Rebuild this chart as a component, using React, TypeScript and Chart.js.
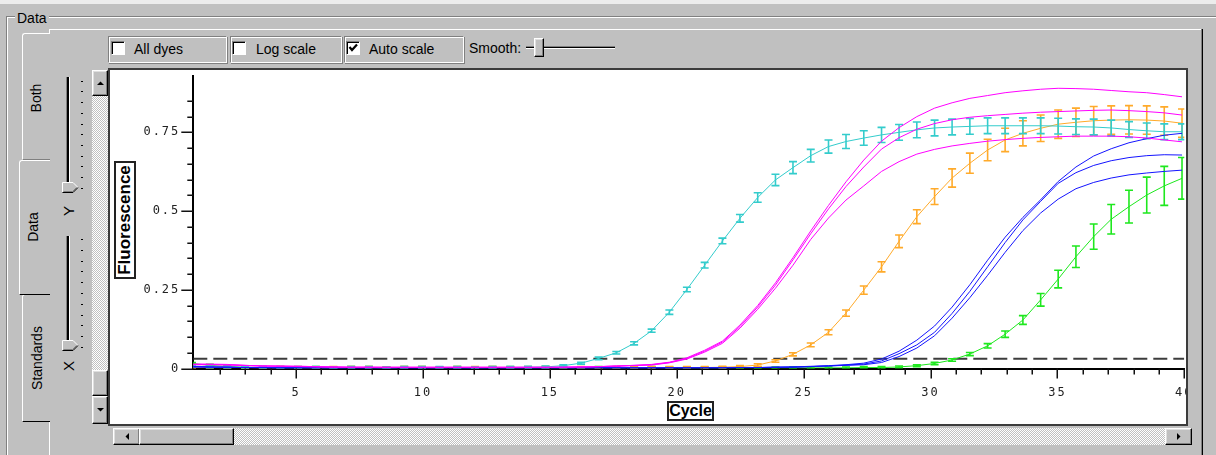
import React, { useEffect, useRef } from "react";
import { Chart, registerables } from "chart.js";

Chart.register(...registerables);

// ---- data ----
const CYCLES = [
  0.90, 1.60, 2.29, 2.99, 3.69, 4.38, 5.08, 5.78, 6.47, 7.17,
  7.87, 8.56, 9.26, 9.96, 10.65, 11.35, 12.05, 12.74, 13.44, 14.14,
  14.83, 15.53, 16.23, 16.92, 17.62, 18.32, 19.01, 19.71, 20.40, 21.10,
  21.80, 22.49, 23.19, 23.89, 24.58, 25.28, 25.98, 26.67, 27.37, 28.07,
  28.76, 29.46, 30.16, 30.85, 31.55, 32.25, 32.94, 33.64, 34.34, 35.03,
  35.73, 36.43, 37.12, 37.82, 38.52, 39.21, 39.91,
];

const CYAN = [
  0.008, 0.005, 0.004, 0.003, 0.003, 0.002, 0.003, 0.003, 0.002, 0.003,
  0.003, 0.002, 0.003, 0.003, 0.003, 0.003, 0.002, 0.003, 0.003, 0.004,
  0.005, 0.009, 0.017, 0.032, 0.050, 0.080, 0.120, 0.179, 0.251, 0.328,
  0.405, 0.477, 0.543, 0.599, 0.638, 0.676, 0.705, 0.721, 0.732, 0.742,
  0.750, 0.758, 0.764, 0.767, 0.769, 0.771, 0.771, 0.771, 0.771, 0.770,
  0.768, 0.767, 0.764, 0.759, 0.755, 0.752, 0.752,
];
const CYAN_ERR = [
  0.003, 0.003, 0.003, 0.003, 0.003, 0.003, 0.003, 0.003, 0.003, 0.003,
  0.003, 0.003, 0.003, 0.003, 0.003, 0.003, 0.003, 0.003, 0.003, 0.003,
  0.003, 0.003, 0.003, 0.004, 0.004, 0.005, 0.005, 0.007, 0.007, 0.009,
  0.009, 0.012, 0.015, 0.018, 0.019, 0.020, 0.021, 0.022, 0.023, 0.024,
  0.025, 0.025, 0.025, 0.025, 0.025, 0.025, 0.025, 0.025, 0.025, 0.025,
  0.025, 0.025, 0.025, 0.025, 0.025, 0.025, 0.025,
];

const MAGENTA_1 = [
  0.014, 0.014, 0.013, 0.010, 0.008, 0.008, 0.007, 0.006, 0.005, 0.004,
  0.004, 0.004, 0.004, 0.004, 0.004, 0.004, 0.004, 0.004, 0.004, 0.004,
  0.004, 0.004, 0.005, 0.006, 0.008, 0.010, 0.013, 0.020, 0.034, 0.058,
  0.087, 0.138, 0.200, 0.272, 0.352, 0.437, 0.518, 0.593, 0.662, 0.722,
  0.765, 0.800, 0.827, 0.844, 0.858, 0.867, 0.876, 0.882, 0.887, 0.890,
  0.889, 0.887, 0.883, 0.879, 0.876, 0.870, 0.863,
];
const MAGENTA_2 = [
  0.013, 0.013, 0.012, 0.010, 0.008, 0.007, 0.007, 0.006, 0.005, 0.004,
  0.004, 0.004, 0.004, 0.004, 0.004, 0.004, 0.004, 0.004, 0.004, 0.004,
  0.004, 0.004, 0.005, 0.006, 0.008, 0.010, 0.012, 0.019, 0.032, 0.055,
  0.084, 0.133, 0.195, 0.265, 0.345, 0.428, 0.507, 0.578, 0.640, 0.697,
  0.733, 0.760, 0.778, 0.790, 0.798, 0.803, 0.807, 0.811, 0.814, 0.816,
  0.818, 0.820, 0.821, 0.819, 0.816, 0.812, 0.805,
];
const MAGENTA_3 = [
  0.012, 0.012, 0.011, 0.009, 0.008, 0.007, 0.006, 0.005, 0.004, 0.004,
  0.004, 0.003, 0.003, 0.003, 0.003, 0.003, 0.003, 0.003, 0.003, 0.003,
  0.003, 0.004, 0.005, 0.006, 0.007, 0.009, 0.011, 0.018, 0.030, 0.052,
  0.080, 0.128, 0.188, 0.255, 0.328, 0.410, 0.478, 0.535, 0.580, 0.626,
  0.657, 0.681, 0.696, 0.707, 0.715, 0.722, 0.727, 0.731, 0.734, 0.736,
  0.738, 0.738, 0.738, 0.736, 0.732, 0.726, 0.720,
];

const ORANGE = [
  0.004, 0.003, 0.003, 0.003, 0.002, 0.003, 0.003, 0.002, 0.003, 0.003,
  0.003, 0.002, 0.003, 0.003, 0.002, 0.003, 0.003, 0.003, 0.002, 0.003,
  0.003, 0.003, 0.003, 0.002, 0.003, 0.003, 0.003, 0.003, 0.003, 0.003,
  0.004, 0.006, 0.011, 0.024, 0.045, 0.075, 0.115, 0.176, 0.249, 0.323,
  0.404, 0.482, 0.546, 0.605, 0.652, 0.694, 0.726, 0.747, 0.763, 0.776,
  0.782, 0.787, 0.789, 0.790, 0.789, 0.786, 0.779,
];
const ORANGE_ERR = [
  0.003, 0.003, 0.003, 0.003, 0.003, 0.003, 0.003, 0.003, 0.003, 0.003,
  0.003, 0.003, 0.003, 0.003, 0.003, 0.003, 0.003, 0.003, 0.003, 0.003,
  0.003, 0.003, 0.003, 0.003, 0.003, 0.003, 0.003, 0.003, 0.003, 0.003,
  0.003, 0.003, 0.004, 0.004, 0.005, 0.006, 0.008, 0.010, 0.013, 0.016,
  0.020, 0.022, 0.025, 0.029, 0.032, 0.034, 0.037, 0.040, 0.042, 0.045,
  0.045, 0.045, 0.045, 0.045, 0.045, 0.045, 0.045,
];

const BLUE_1 = [
  0.006, 0.005, 0.004, 0.003, 0.003, 0.002, 0.002, 0.002, 0.002, 0.002,
  0.002, 0.002, 0.002, 0.002, 0.002, 0.002, 0.002, 0.002, 0.002, 0.002,
  0.002, 0.002, 0.002, 0.002, 0.002, 0.002, 0.002, 0.002, 0.002, 0.002,
  0.002, 0.003, 0.003, 0.004, 0.005, 0.007, 0.009, 0.012, 0.017, 0.030,
  0.055, 0.090, 0.135, 0.195, 0.266, 0.344, 0.417, 0.480, 0.536, 0.594,
  0.640, 0.675, 0.698, 0.717, 0.730, 0.741, 0.747,
];
const BLUE_2 = [
  0.006, 0.005, 0.004, 0.003, 0.003, 0.002, 0.002, 0.002, 0.002, 0.002,
  0.002, 0.002, 0.002, 0.002, 0.002, 0.002, 0.002, 0.002, 0.002, 0.002,
  0.002, 0.002, 0.002, 0.002, 0.002, 0.002, 0.002, 0.002, 0.002, 0.002,
  0.002, 0.003, 0.003, 0.004, 0.005, 0.006, 0.008, 0.011, 0.014, 0.024,
  0.047, 0.075, 0.115, 0.175, 0.245, 0.323, 0.400, 0.472, 0.531, 0.588,
  0.622, 0.645, 0.660, 0.670, 0.676, 0.679, 0.678,
];
const BLUE_3 = [
  0.005, 0.004, 0.004, 0.003, 0.002, 0.002, 0.002, 0.002, 0.002, 0.002,
  0.002, 0.002, 0.002, 0.002, 0.002, 0.002, 0.002, 0.002, 0.002, 0.002,
  0.002, 0.002, 0.002, 0.002, 0.002, 0.002, 0.002, 0.002, 0.002, 0.002,
  0.002, 0.003, 0.003, 0.004, 0.004, 0.006, 0.008, 0.010, 0.012, 0.019,
  0.038, 0.065, 0.104, 0.160, 0.225, 0.296, 0.369, 0.438, 0.494, 0.538,
  0.571, 0.591, 0.605, 0.615, 0.621, 0.626, 0.630,
];

const GREEN = [
  0.016, 0.010, 0.006, 0.004, 0.003, 0.003, 0.002, 0.003, 0.002, 0.003,
  0.003, 0.002, 0.003, 0.003, 0.002, 0.003, 0.002, 0.003, 0.003, 0.002,
  0.003, 0.002, 0.002, 0.003, 0.002, 0.002, 0.003, 0.002, 0.002, 0.002,
  0.002, 0.002, 0.002, 0.002, 0.002, 0.002, 0.002, 0.002, 0.003, 0.003,
  0.005, 0.009, 0.016, 0.027, 0.046, 0.072, 0.109, 0.154, 0.218, 0.284,
  0.355, 0.419, 0.474, 0.514, 0.551, 0.580, 0.604,
];
const GREEN_ERR = [
  0.003, 0.003, 0.003, 0.003, 0.003, 0.003, 0.003, 0.003, 0.003, 0.003,
  0.003, 0.003, 0.003, 0.003, 0.003, 0.003, 0.003, 0.003, 0.003, 0.003,
  0.003, 0.003, 0.003, 0.003, 0.003, 0.003, 0.003, 0.003, 0.003, 0.003,
  0.003, 0.003, 0.003, 0.003, 0.003, 0.003, 0.003, 0.003, 0.003, 0.003,
  0.003, 0.003, 0.004, 0.004, 0.005, 0.007, 0.010, 0.014, 0.020, 0.028,
  0.034, 0.040, 0.047, 0.052, 0.057, 0.062, 0.066,
];

const THRESHOLD = 0.031;
const X_MIN = 0.95;
const X_MAX = 40;
const Y_MIN = 0;
const Y_MAX = 0.93;
const X_LABEL_EVERY = 5;
const Y_LABELED = [0, 0.25, 0.5, 0.75];

const COLORS = {
  cyan: "#33cccc",
  magenta: "#ff00ff",
  orange: "#ffaa2a",
  blue: "#1414ff",
  green: "#1ee81e",
  threshold: "#3c3c3c",
};

const pts = (vals: number[]) => CYCLES.map((c, i) => ({ x: c, y: vals[i] }));

// ---- plugins ----
const labelSpacing = {
  id: "labelSpacing",
  beforeDraw(chart: any) {
    chart.ctx.letterSpacing = "2px";
  },
  afterDraw(chart: any) {
    chart.ctx.letterSpacing = "0px";
  },
};

// error bars drawn right after each dataset's own line, so later lines overlap them
const errorBars = {
  id: "errorBars",
  afterDatasetDraw(chart: any, args: any) {
    const ds = chart.data.datasets[args.index];
    if (!ds || !ds.errors) return;
    const { ctx, chartArea, scales } = chart;
    const x = scales.x;
    const y = scales.y;
    ctx.save();
    ctx.beginPath();
    ctx.rect(chartArea.left, chartArea.top, chartArea.right - chartArea.left, chartArea.bottom - chartArea.top);
    ctx.clip();
    ctx.strokeStyle = ds.borderColor;
    ctx.lineWidth = 1.6;
    ds.data.forEach((p: any, i: number) => {
      const e = ds.errors[i];
      const px = x.getPixelForValue(p.x);
      const yt = y.getPixelForValue(p.y + e);
      const yb = y.getPixelForValue(p.y - e);
      ctx.beginPath();
      ctx.moveTo(px, yt);
      ctx.lineTo(px, yb);
      ctx.moveTo(px - 4, yt);
      ctx.lineTo(px + 4, yt);
      ctx.moveTo(px - 4, yb);
      ctx.lineTo(px + 4, yb);
      ctx.stroke();
    });
    ctx.restore();
  },
};

const tickMarks = {
  id: "tickMarks",
  afterDraw(chart: any) {
    const { ctx, chartArea, scales } = chart;
    const x = scales.x;
    const y = scales.y;
    ctx.save();
    ctx.strokeStyle = "#111";
    ctx.lineWidth = 1.5;
    y.ticks.forEach((t: any) => {
      const r = Math.round(t.value * 100) / 100;
      if (Math.abs(r * 20 - Math.round(r * 20)) > 1e-6) return;
      const major = Y_LABELED.some((v) => Math.abs(v - r) < 1e-6);
      const len = major ? 12 : 6;
      const py = Math.round(y.getPixelForValue(t.value)) + 0.25;
      ctx.beginPath();
      ctx.moveTo(chartArea.left - len, py);
      ctx.lineTo(chartArea.left, py);
      ctx.stroke();
    });
    x.ticks.forEach((t: any) => {
      if (!Number.isInteger(t.value)) return;
      const len = t.value % X_LABEL_EVERY === 0 ? 10 : 6;
      const px = Math.round(x.getPixelForValue(t.value)) + 0.25;
      ctx.beginPath();
      ctx.moveTo(px, chartArea.bottom);
      ctx.lineTo(px, chartArea.bottom + len);
      ctx.stroke();
    });
    ctx.restore();
  },
};

// ---- UI helpers ----
const GRAY = "#c0c0c0";
const abs = (l: number, t: number, w: number, h: number, extra: any = {}) => ({
  position: "absolute" as const,
  left: l,
  top: t,
  width: w,
  height: h,
  boxSizing: "border-box" as const,
  ...extra,
});
const raised = {
  background: GRAY,
  borderTop: "1px solid #ffffff",
  borderLeft: "1px solid #ffffff",
  borderRight: "1px solid #000000",
  borderBottom: "1px solid #000000",
  boxShadow: "inset -1px -1px 0 #808080, inset 1px 1px 0 #dfdfdf",
  display: "flex",
  alignItems: "center",
  justifyContent: "center",
};
const dotted = {
  backgroundColor: GRAY,
  backgroundImage: "repeating-conic-gradient(#ffffff 0 25%, transparent 0 50%)",
  backgroundSize: "2px 2px",
};
const etched = {
  borderTop: "1px solid #808080",
  borderLeft: "1px solid #808080",
  borderRight: "1px solid #ffffff",
  borderBottom: "1px solid #ffffff",
  boxShadow: "inset 1px 1px 0 #ffffff, 1px 1px 0 #808080",
};

function Tri({ dir }: { dir: string }) {
  const p: any = {
    up: "0,4 7,4 3.5,0.5",
    down: "0,0 7,0 3.5,3.5",
    left: "4,0 4,7 0.5,3.5",
    right: "0,0 0,7 3.5,3.5",
  };
  const horiz = dir === "left" || dir === "right";
  return (
    <svg width={horiz ? 4 : 7} height={horiz ? 7 : 4} style={{ display: "block" }}>
      <polygon points={p[dir]} fill="#000" />
    </svg>
  );
}

function CheckBox({ l, t, checked }: { l: number; t: number; checked?: boolean }) {
  return (
    <div
      style={abs(l, t, 14, 14, {
        background: "#fff",
        borderTop: "1px solid #808080",
        borderLeft: "1px solid #808080",
        borderRight: "1px solid #ffffff",
        borderBottom: "1px solid #ffffff",
        boxShadow: "inset 1px 1px 0 #000",
      })}
    >
      {checked && (
        <svg width={12} height={12} style={{ position: "absolute", left: 0, top: 0 }}>
          <polyline points="2.5,5 5,8 10,2.5" fill="none" stroke="#000" strokeWidth={2.2} />
        </svg>
      )}
    </div>
  );
}

function Text({ l, t, children, size = 14, extra = {} }: any) {
  return (
    <div style={{ position: "absolute", left: l, top: t, fontSize: size, lineHeight: "16px", whiteSpace: "nowrap", color: "#000", ...extra }}>
      {children}
    </div>
  );
}

function VText({ cx, cy, children, size = 14, bold = false }: any) {
  return (
    <div
      style={{
        position: "absolute",
        left: cx,
        top: cy,
        transform: "translate(-50%, -50%) rotate(-90deg)",
        fontSize: size,
        fontWeight: bold ? "bold" : "normal",
        lineHeight: "16px",
        whiteSpace: "nowrap",
        color: "#000",
      }}
    >
      {children}
    </div>
  );
}

function VSlider({ top, height, thumbTop, tickStart, tickGap }: any) {
  const ticks = Array.from({ length: 11 }, (_, k) => tickStart + k * tickGap);
  return (
    <>
      <div style={abs(66, top, 1, height, { background: "#808080" })} />
      <div style={abs(67, top, 2, height, { background: "#000" })} />
      <div style={abs(69, top, 1, height, { background: "#fff" })} />
      {ticks.map((ty, k) => (
        <div key={k} style={abs(81, Math.round(ty), 2, 1, { background: "#000" })} />
      ))}
      <svg width={18} height={11} style={{ position: "absolute", left: 62, top: thumbTop }}>
        <polygon points="0.5,0.5 11,0.5 16.5,5.5 11,10.5 0.5,10.5" fill={GRAY} />
        <polyline points="0.5,10 0.5,0.5 11,0.5 16,5.5" fill="none" stroke="#fff" />
        <polyline points="16,5.5 11,10.5 0.5,10.5" fill="none" stroke="#000" />
        <polyline points="1.5,9.5 10.5,9.5 14.5,5.5" fill="none" stroke="#808080" />
      </svg>
    </>
  );
}

export default function App() {
  const canvasRef = useRef<HTMLCanvasElement | null>(null);

  useEffect(() => {
    const canvas = canvasRef.current;
    if (!canvas) return;
    const line = (label: string, vals: number[], color: string, errors?: number[]) => ({
      label,
      data: pts(vals),
      borderColor: color,
      backgroundColor: color,
      borderWidth: 1,
      pointRadius: 0,
      tension: 0,
      fill: false,
      errors,
    });
    const chart = new Chart(canvas, {
      type: "line",
      data: {
        datasets: [
          line("Magenta 1", MAGENTA_1, COLORS.magenta),
          line("Magenta 2", MAGENTA_2, COLORS.magenta),
          line("Magenta 3", MAGENTA_3, COLORS.magenta),
          line("Blue 1", BLUE_1, COLORS.blue),
          line("Blue 2", BLUE_2, COLORS.blue),
          line("Blue 3", BLUE_3, COLORS.blue),
          line("Cyan", CYAN, COLORS.cyan, CYAN_ERR),
          line("Orange", ORANGE, COLORS.orange, ORANGE_ERR),
          line("Green", GREEN, COLORS.green, GREEN_ERR),
          {
            label: "Threshold",
            data: [
              { x: X_MIN, y: THRESHOLD },
              { x: X_MAX, y: THRESHOLD },
            ],
            borderColor: COLORS.threshold,
            borderWidth: 2,
            borderDash: [14, 6],
            pointRadius: 0,
            fill: false,
          },
        ] as any,
      },
      options: {
        animation: false,
        responsive: false,
        devicePixelRatio: 1,
        events: [],
        layout: { padding: { top: 5.7, right: 1.7, left: 0, bottom: 0 } },
        plugins: {
          legend: { display: false },
          tooltip: { enabled: false },
          title: { display: false },
        },
        scales: {
          x: {
            type: "linear",
            min: X_MIN,
            max: X_MAX,
            grid: { display: true, drawOnChartArea: false, drawTicks: false },
            border: { display: true, color: "#000", width: 2 },
            ticks: {
              stepSize: 1,
              autoSkip: false,
              maxRotation: 0,
              padding: 17,
              color: "#222",
              font: { family: '"DejaVu Sans Mono", monospace', size: 12 },
              callback: (v: any) => (Number.isInteger(v) && v % X_LABEL_EVERY === 0 ? String(v) : ""),
            },
            afterFit: (s: any) => {
              s.height = 55.5;
              s.paddingLeft = 0;
              s.paddingRight = 0;
            },
          },
          y: {
            type: "linear",
            min: Y_MIN,
            max: Y_MAX,
            grid: { display: true, drawOnChartArea: false, drawTicks: false },
            border: { display: true, color: "#000", width: 2 },
            ticks: {
              stepSize: 0.05,
              autoSkip: false,
              padding: 13,
              color: "#222",
              font: { family: '"DejaVu Sans Mono", monospace', size: 12 },
              callback: (v: any) => {
                const r = Math.round(v * 100) / 100;
                return Y_LABELED.some((t) => Math.abs(t - r) < 1e-6) ? String(r) : "";
              },
            },
            afterFit: (s: any) => {
              s.width = 83.3;
              s.paddingTop = 0;
              s.paddingBottom = 0;
            },
          },
        },
      } as any,
      plugins: [labelSpacing, errorBars, tickMarks],
    });
    return () => chart.destroy();
  }, []);

  return (
    <div
      style={{
        position: "absolute",
        left: 0,
        top: 0,
        width: 1216,
        height: 455,
        overflow: "hidden",
        background: GRAY,
        fontFamily: '"Liberation Sans", Arial, sans-serif',
      }}
    >
      {/* top strip */}
      <div style={abs(0, 0, 1216, 4, { background: "#ececec" })} />

      {/* group box */}
      <div style={abs(6, 16, 1210, 1, { background: "#808080" })} />
      <div style={abs(7, 17, 1209, 1, { background: "#ffffff" })} />
      <div style={abs(6, 16, 1, 439, { background: "#808080" })} />
      <div style={abs(7, 17, 1, 438, { background: "#ffffff" })} />
      <Text l={15} t={10} size={14} extra={{ background: GRAY, padding: "0 2px" }}>
        Data
      </Text>

      {/* tab page */}
      <div style={abs(49, 29, 1153, 1, { background: "#ffffff" })} />
      <div style={abs(49, 29, 1, 426, { background: "#ffffff" })} />
      <div style={abs(1201, 29, 1, 426, { background: "#808080" })} />
      <div style={abs(1202, 29, 1, 426, { background: "#000000" })} />

      {/* tabs */}
      <div
        style={abs(22, 33, 28, 127, {
          background: GRAY,
          borderLeft: "1px solid #fff",
          borderTop: "1px solid #fff",
          borderBottom: "1px solid #808080",
          borderTopLeftRadius: 3,
        })}
      />
      <VText cx={36} cy={98}>Both</VText>
      <div
        style={abs(22, 294, 28, 128, {
          background: GRAY,
          borderLeft: "1px solid #fff",
          borderTop: "1px solid #fff",
          borderBottom: "1px solid #000",
          borderTopLeftRadius: 3,
        })}
      />
      <VText cx={37} cy={358}>Standards</VText>
      <div
        style={abs(19, 160, 31, 135, {
          background: GRAY,
          borderLeft: "1px solid #fff",
          borderTop: "1px solid #fff",
          borderBottom: "1px solid #000",
          borderTopLeftRadius: 3,
        })}
      />
      <VText cx={33} cy={227}>Data</VText>

      {/* option row */}
      <div style={abs(108, 36, 119, 27, etched)} />
      <div style={abs(230, 36, 112, 27, etched)} />
      <div style={abs(344, 36, 120, 27, etched)} />
      <CheckBox l={111} t={41} />
      <Text l={134} t={41}>All dyes</Text>
      <CheckBox l={232} t={41} />
      <Text l={256} t={41}>Log scale</Text>
      <CheckBox l={346} t={41} checked />
      <Text l={369} t={41}>Auto scale</Text>
      <Text l={469} t={40}>Smooth:</Text>
      <div style={abs(526, 46, 89, 1, { background: "#808080" })} />
      <div style={abs(526, 47, 89, 1, { background: "#000" })} />
      <div style={abs(526, 48, 89, 1, { background: "#fff" })} />
      <div style={abs(534, 38, 10, 19, raised)} />

      {/* vertical zoom sliders */}
      <VSlider top={77} height={114} thumbTop={182} tickStart={80.7} tickGap={10.7} />
      <VText cx={69} cy={211} size={15}>Y</VText>
      <VSlider top={236} height={112} thumbTop={340} tickStart={239} tickGap={10.8} />
      <VText cx={69} cy={366} size={15}>X</VText>

      {/* vertical scrollbar */}
      <div style={abs(92, 96, 16, 274, dotted)} />
      <div style={abs(92, 70, 16, 26, raised)}>
        <Tri dir="up" />
      </div>
      <div style={abs(92, 370, 16, 26, raised)} />
      <div style={abs(92, 396, 16, 28, raised)}>
        <Tri dir="down" />
      </div>

      {/* plot frame + chart */}
      <div style={abs(108, 68, 1080, 358, { background: "#fff", border: "2px solid #3c3c3c" })} />
      <canvas ref={canvasRef} width={1076} height={354} style={{ position: "absolute", left: 110, top: 70, width: 1076, height: 354 }} />

      {/* axis titles */}
      <div
        style={abs(114, 161, 22, 118, {
          border: "2px solid #222",
          background: "#fff",
        })}
      />
      <VText cx={125} cy={220} size={17} bold>
        Fluorescence
      </VText>
      <div
        style={abs(667, 401, 47, 20, {
          border: "2px solid #222",
          background: "#fff",
          display: "flex",
          alignItems: "center",
          justifyContent: "center",
          fontWeight: "bold",
          fontSize: 16,
          color: "#000",
        })}
      >
        Cycle
      </div>

      {/* horizontal scrollbar */}
      <div style={abs(113, 428, 1078, 17, dotted)} />
      <div style={abs(113, 428, 27, 17, raised)}>
        <Tri dir="left" />
      </div>
      <div style={abs(139, 428, 95, 17, raised)} />
      <div style={abs(1165, 428, 27, 17, raised)}>
        <Tri dir="right" />
      </div>
    </div>
  );
}
